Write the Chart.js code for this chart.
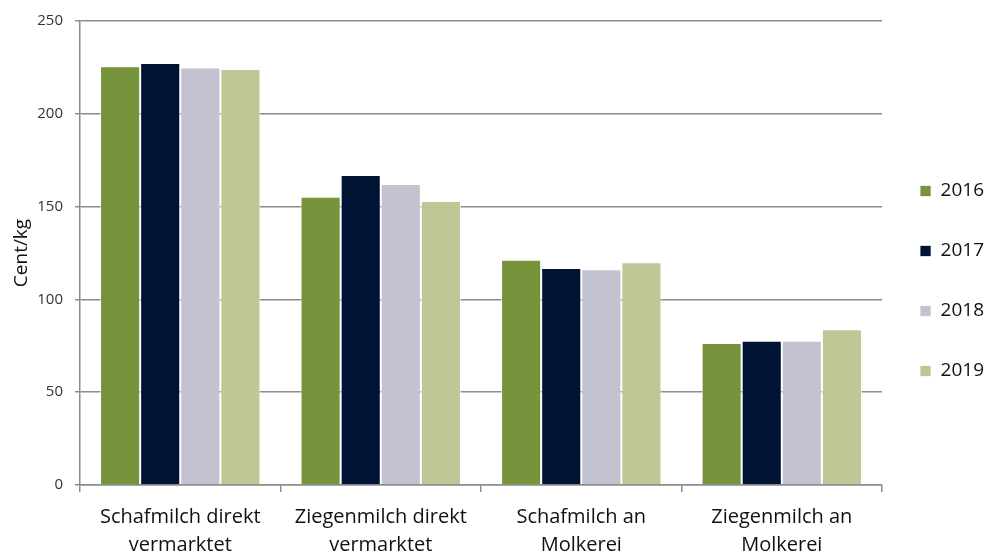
<!DOCTYPE html>
<html>
<head>
<meta charset="utf-8">
<script src="https://cdn.jsdelivr.net/npm/chart.js@4/dist/chart.umd.min.js"></script>
<style>
  html, body { margin: 0; padding: 0; background: #fff; }
  #wrap { width: 984px; height: 555px; }
</style>
</head>
<body>
<div id="wrap"><canvas id="milchChart" width="984" height="555"></canvas></div>
<script>
// Kategorien (mehrzeilige Beschriftung)
const categories = [
  ['Schafmilch direkt', 'vermarktet'],
  ['Ziegenmilch direkt', 'vermarktet'],
  ['Schafmilch an', 'Molkerei'],
  ['Ziegenmilch an', 'Molkerei']
];

// Werte in Cent/kg je Jahr
const years = ['2016', '2017', '2018', '2019'];
const values2016 = [225.6, 155.3, 121.4, 76.5];
const values2017 = [227.4, 167.0, 116.9, 77.7];
const values2018 = [225.0, 162.2, 116.2, 77.7];
const values2019 = [224.1, 153.0, 120.0, 83.9];

// Achse
const yTicks = [0, 50, 100, 150, 200, 250];

const colors = ['#77933c', '#001335', '#c3c2d1', '#bfc797'];
const series = [values2016, values2017, values2018, values2019];

const ctx = document.getElementById('milchChart').getContext('2d');
const FONT = '"Open Sans", Lato, sans-serif';

// Legende etwas schmaler machen, Einträge aber an gleicher Stelle lassen
const legendNudge = {
  id: 'legendNudge',
  afterInit(chart) {
    const lg = chart.legend;
    const fit = lg.fit.bind(lg);
    lg.fit = function () { fit(); this.width -= 3; };
  },
  afterLayout(chart) {
    const lg = chart.legend;
    lg.left -= 3;
    lg.top -= 5;
    lg.bottom -= 5;
  }
};

new Chart(ctx, {
  type: 'bar',
  data: {
    labels: categories,
    datasets: years.map((y, i) => ({
      label: y,
      data: series[i],
      backgroundColor: colors[i],
      borderColor: 'rgba(255,255,255,0.7)',
      borderWidth: 1,
      categoryPercentage: 0.8,
      barPercentage: 1.0
    }))
  },
  plugins: [legendNudge],
  options: {
    responsive: false,
    animation: false,
    // rechts negativ, damit die Legende bis an den Rand rückt
    layout: { padding: { top: 17, right: -10, left: 0, bottom: 0 } },
    plugins: {
      tooltip: { enabled: false },
      legend: {
        position: 'right',
        align: 'center',
        labels: {
          boxWidth: 11,
          boxHeight: 11,
          padding: 41,
          color: '#111',
          font: { family: FONT, size: 19 }
        }
      }
    },
    scales: {
      x: {
        // feste Höhe, kein Zusatzrand für die Beschriftung
        afterFit: s => { s.paddingLeft = 0; s.paddingRight = 0; s.height = 70; },
        grid: {
          drawOnChartArea: false,
          drawTicks: true,
          tickLength: 7,
          color: '#8c8c8c',
          lineWidth: 1.5
        },
        border: { color: '#8c8c8c', width: 1.5 },
        ticks: {
          color: '#111',
          font: { family: FONT, size: 20, lineHeight: 1.4 },
          padding: 11,
          maxRotation: 0
        }
      },
      y: {
        min: 0,
        max: 250,
        afterBuildTicks: axis => { axis.ticks = yTicks.map(v => ({ value: v })); },
        afterFit: s => { s.width = 80; },
        grid: {
          color: '#8c8c8c',
          lineWidth: 1.5,
          drawTicks: true,
          tickLength: 5
        },
        border: { color: '#8c8c8c', width: 1.5 },
        ticks: {
          color: '#333',
          font: { family: FONT, size: 15 },
          padding: 12
        },
        title: {
          display: true,
          text: 'Cent/kg',
          color: '#111',
          font: { family: FONT, size: 19 },
          padding: { top: 10, bottom: 4 }
        }
      }
    }
  }
});
</script>
</body>
</html>
